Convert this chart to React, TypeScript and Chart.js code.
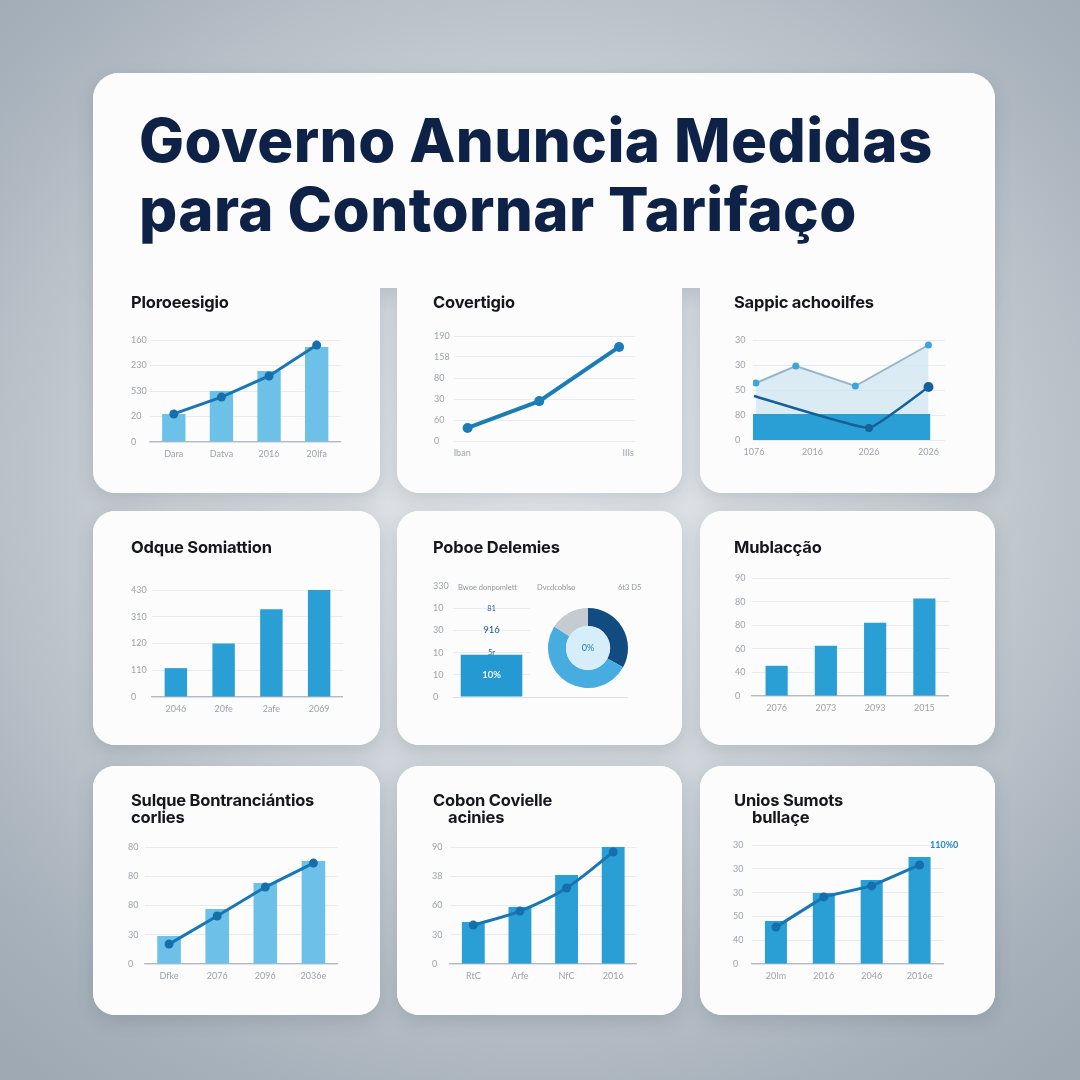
import React, { useEffect, useRef } from "react";
import { Chart, registerables } from "chart.js";
Chart.register(...registerables);

// ---------------- DATA ----------------
const mainTitle = ["Governo Anuncia Medidas", "para Contornar Tarifaço"];

// Panel 1
const p1Title = ["Ploroeesigio"];
const p1Labels = ["Dara", "Datva", "2016", "20Ifa"];
const p1Ticks = ["0", "20", "530", "230", "160"];
const p1Bars = [1.1, 2.0, 2.78, 3.73];
const p1Line = [1.1, 1.76, 2.59, 3.8];

// Panel 2
const p2Title = ["Covertigio"];
const p2Ticks = ["0", "60", "30", "80", "158", "190"];
const p2XLabels = ["Iban", "IIIs"];
const p2XLabelAt = [0.45, 9.6];
const p2X = [0.75, 4.7, 9.1];
const p2Y = [0.62, 1.9, 4.48];

// Panel 3
const p3Title = ["Sappic achooilfes"];
const p3Ticks = ["0", "80", "50", "30", "30"];
const p3XLabels = ["1076", "2016", "2026", "2026"];
const p3XLabelAt = [0.05, 3.1, 6.04, 9.14];
const p3AreaX = [0.15, 2.23, 5.33, 9.14];
const p3AreaY = [2.28, 2.96, 2.16, 3.8];
const p3DarkX = [0.05, 6.04, 9.14];
const p3DarkY = [1.76, 0.48, 2.12];
const p3BandX = [0, 9.24];
const p3BandY = [1.04, 1.04];

// Panel 4
const p4Title = ["Odque Somiattion"];
const p4Labels = ["2046", "20fe", "2afe", "2069"];
const p4Ticks = ["0", "110", "120", "310", "430"];
const p4Bars = [1.08, 2.0, 3.28, 4.06];

// Panel 5
const p5Title = ["Poboe Delemies"];
const p5Heads = ["Bwoe donpomlett", "Dvcdcoblso", "6t3 D5"];
const p5Ticks = ["0", "10", "10", "30", "10", "330"];
const p5Bar = [1.9];
const p5Notes = ["10%", "5r", "916", "81"];
const p5NoteAt = [1, 2, 3, 4];
const p5Slices = [33, 51, 16];
const p5Center = "0%";

// Panel 6
const p6Title = ["Mublacção"];
const p6Labels = ["2076", "2073", "2093", "2015"];
const p6Ticks = ["0", "40", "60", "80", "80", "90"];
const p6Bars = [1.28, 2.13, 3.1, 4.13];

// Panel 7
const p7Title = ["Sulque Bontranciántios", "corlies"];
const p7Labels = ["Dfke", "2076", "2096", "2036e"];
const p7Ticks = ["0", "30", "80", "80", "80"];
const p7Bars = [0.96, 1.88, 2.77, 3.52];
const p7Line = [0.68, 1.64, 2.63, 3.45];

// Panel 8
const p8Title = ["Cobon Covielle", "acinies"];
const p8Labels = ["RtC", "Arfe", "NfC", "2016"];
const p8Ticks = ["0", "30", "60", "38", "90"];
const p8Bars = [1.44, 1.95, 3.04, 4.03];
const p8Line = [1.33, 1.81, 2.6, 3.83];

// Panel 9
const p9Title = ["Unios Sumots", "bullaçe"];
const p9Labels = ["20Im", "2016", "2046", "2016e"];
const p9Ticks = ["0", "40", "50", "30", "30", "30"];
const p9Bars = [1.81, 2.98, 3.53, 4.5];
const p9Line = [1.55, 2.82, 3.28, 4.16];
const p9Note = "110%0";

// ---------------- STYLE ----------------
const TICK_FONT = { family: "Lato", size: 9 };
const TICK_COLOR = "#9ca3aa";
const GRID = "#e8ecef";
const AXIS = "#b3bac1";
const LIGHT_BAR = "#6dc0e8";
const BAR = "#2a9fd6";
const LINE = "#1677b4";

type Geo = { box: { left: number; top: number; width: number; height: number }; yw: number; xh: number; padTop: number; padRight: number };

function geo(labelLeft: number, plotLeft: number, plotRight: number, gridTop: number, gridBottom: number, xh = 24, padTop = 8, padRight = 0): Geo {
  return {
    box: { left: labelLeft, top: gridTop - padTop, width: plotRight - labelLeft + padRight, height: gridBottom - gridTop + padTop + xh },
    yw: plotLeft - labelLeft,
    xh,
    padTop,
    padRight,
  };
}

function baseOpts(g: Geo) {
  return {
    responsive: false,
    maintainAspectRatio: false,
    animation: false as const,
    events: [] as any[],
    layout: { padding: { top: g.padTop, left: 0, right: g.padRight, bottom: 0 } },
    plugins: { legend: { display: false }, tooltip: { enabled: false }, title: { display: false } },
  };
}

function yScale(ticks: string[], g: Geo, extra: any = {}) {
  return {
    type: "linear",
    min: 0,
    max: ticks.length - 1,
    afterFit: (s: any) => { s.width = g.yw; },
    afterBuildTicks: (s: any) => { s.ticks = ticks.map((_, i) => ({ value: i })); },
    ticks: {
      callback: (_v: any, i: number) => ticks[i],
      crossAlign: "far",
      color: TICK_COLOR,
      font: TICK_FONT,
      padding: 0,
      autoSkip: false,
    },
    grid: { color: GRID, drawTicks: false, lineWidth: 1 },
    border: { display: false },
    ...extra,
  };
}

function xCat(g: Geo, border = true) {
  return {
    type: "category",
    offset: true,
    afterFit: (s: any) => { s.height = g.xh; },
    grid: { display: false, drawTicks: false },
    border: { display: border, color: AXIS, width: 1.2 },
    ticks: { color: TICK_COLOR, font: TICK_FONT, padding: 7, maxRotation: 0, autoSkip: false },
  };
}

function xLin(g: Geo, labels: string[], at: number[]) {
  return {
    type: "linear",
    min: 0,
    max: 10,
    afterFit: (s: any) => { s.height = g.xh; },
    afterBuildTicks: (s: any) => { s.ticks = at.map((v) => ({ value: v })); },
    grid: { display: false, drawTicks: false },
    border: { display: false },
    ticks: { callback: (_v: any, i: number) => labels[i], color: TICK_COLOR, font: TICK_FONT, padding: 7, maxRotation: 0, autoSkip: false },
  };
}

function barConfig(labels: string[], ticks: string[], bars: number[], line: number[] | null, g: Geo, barColor: string, barPct: number, tension = 0) {
  const datasets: any[] = [];
  if (line) {
    datasets.push({
      type: "line",
      data: line,
      borderColor: LINE,
      backgroundColor: LINE,
      borderWidth: 3,
      pointRadius: 4.5,
      pointBackgroundColor: "#156fab",
      pointBorderWidth: 0,
      tension,
      fill: false,
    });
  }
  datasets.push({
    type: "bar",
    data: bars,
    backgroundColor: barColor,
    borderWidth: 0,
    barPercentage: barPct,
    categoryPercentage: 1,
  });
  return {
    type: "bar",
    data: { labels, datasets },
    options: { ...baseOpts(g), scales: { x: xCat(g), y: yScale(ticks, g) } },
  };
}

// ---------------- COMPONENTS ----------------
function ChartBox({ g, make }: { g: { left: number; top: number; width: number; height: number }; make: () => any }) {
  const ref = useRef<HTMLCanvasElement>(null);
  useEffect(() => {
    const c = new Chart(ref.current as HTMLCanvasElement, make());
    return () => c.destroy();
  }, []);
  return (
    <canvas
      ref={ref}
      width={g.width}
      height={g.height}
      style={{ position: "absolute", left: g.left, top: g.top, width: g.width, height: g.height }}
    />
  );
}

function PanelTitle({ lines, left, top, indent = 0 }: { lines: string[]; left: number; top: number; indent?: number }) {
  return (
    <div style={{ position: "absolute", left, top, fontFamily: "Inter", fontWeight: 700, fontSize: 16.5, lineHeight: "17px", color: "#14171c", whiteSpace: "nowrap", letterSpacing: -0.2 }}>
      {lines.map((l, i) => (
        <div key={i} style={{ paddingLeft: i > 0 ? indent : 0 }}>{l}</div>
      ))}
    </div>
  );
}

type R = { l: number; t: number; w: number; h: number; r: string };
const cards: R[] = [
  { l: 93, t: 73, w: 902, h: 215, r: "26px 26px 0 0" },
  { l: 93, t: 288, w: 287, h: 205, r: "0 0 22px 22px" },
  { l: 397, t: 288, w: 285, h: 205, r: "0 0 22px 22px" },
  { l: 700, t: 288, w: 295, h: 205, r: "0 0 22px 22px" },
  { l: 93, t: 511, w: 287, h: 234, r: "22px" },
  { l: 397, t: 511, w: 285, h: 234, r: "22px" },
  { l: 700, t: 511, w: 295, h: 234, r: "22px" },
  { l: 93, t: 766, w: 287, h: 249, r: "22px" },
  { l: 397, t: 766, w: 285, h: 249, r: "22px" },
  { l: 700, t: 766, w: 295, h: 249, r: "22px" },
];

export default function App() {
  const g1 = geo(131, 150, 345, 340, 442);
  const g2 = geo(434, 454, 641, 336, 441);
  const g3 = geo(735, 753, 950, 340, 440);
  const g4 = geo(131, 152, 343, 590, 697);
  const g5 = geo(433, 453, 530, 586, 697, 12, 8, 98);
  const g6 = geo(735, 752, 949, 578, 696);
  const g7 = geo(128, 145, 342, 847, 964);
  const g8 = geo(432, 450, 641, 847, 964);
  const g9 = geo(733, 752, 948, 845, 964);

  const make2 = () => ({
    type: "line",
    data: {
      datasets: [
        {
          data: p2X.map((x, i) => ({ x, y: p2Y[i] })),
          borderColor: "#1a7db8",
          backgroundColor: "#1a7db8",
          borderWidth: 4,
          pointRadius: 5,
          pointBorderWidth: 0,
          tension: 0,
        },
      ],
    },
    options: { ...baseOpts(g2), scales: { x: xLin(g2, p2XLabels, p2XLabelAt), y: yScale(p2Ticks, g2) } },
  });

  const make3 = () => ({
    type: "line",
    data: {
      datasets: [
        {
          data: p3DarkX.map((x, i) => ({ x, y: p3DarkY[i] })),
          borderColor: "#16609a",
          backgroundColor: "#16609a",
          borderWidth: 2.5,
          pointRadius: [0, 4, 5],
          pointBorderWidth: 0,
          fill: false,
          tension: 0.1,
        },
        {
          data: p3BandX.map((x, i) => ({ x, y: p3BandY[i] })),
          borderWidth: 0,
          pointRadius: 0,
          backgroundColor: "#2a9fd6",
          fill: "origin",
        },
        {
          data: p3AreaX.map((x, i) => ({ x, y: p3AreaY[i] })),
          borderColor: "#95b6ca",
          backgroundColor: "rgba(200,226,240,0.65)",
          borderWidth: 2,
          pointRadius: 3.5,
          pointBackgroundColor: "#3aa6df",
          pointBorderWidth: 0,
          fill: "origin",
          tension: 0,
        },
      ],
    },
    options: { ...baseOpts(g3), scales: { x: xLin(g3, p3XLabels, p3XLabelAt), y: yScale(p3Ticks, g3) } },
  });

  const make5 = () => ({
    type: "bar",
    data: {
      labels: [""],
      datasets: [{ data: p5Bar, backgroundColor: "#2499d2", borderWidth: 0, barPercentage: 0.8, categoryPercentage: 1 }],
    },
    options: {
      ...baseOpts(g5),
      scales: {
        x: { ...xCat(g5, false), ticks: { display: false } },
        y: yScale(p5Ticks, g5, {
          grid: {
            color: (c: any) => (c.tick && c.tick.value === 5 ? "rgba(0,0,0,0)" : GRID),
            drawTicks: false,
          },
        }),
      },
    },
    plugins: [
      {
        id: "p5notes",
        afterDatasetsDraw(chart: any) {
          const ctx = chart.ctx;
          const y = chart.scales.y;
          const bar = chart.getDatasetMeta(0).data[0];
          ctx.save();
          // baseline extension under the donut
          ctx.strokeStyle = "#dde2e6";
          ctx.lineWidth = 1;
          ctx.beginPath();
          ctx.moveTo(chart.chartArea.left, y.getPixelForValue(0) + 0.5);
          ctx.lineTo(chart.width, y.getPixelForValue(0) + 0.5);
          ctx.stroke();
          ctx.textAlign = "center";
          ctx.textBaseline = "middle";
          p5Notes.forEach((t, i) => {
            const v = p5NoteAt[i];
            const inside = v < p5Bar[0];
            ctx.fillStyle = inside ? "#ffffff" : "#1f5594";
            ctx.font = (inside ? "600 " : "") + (t.length > 2 ? "9.5px" : "7.5px") + " Lato";
            ctx.fillText(t, bar.x, y.getPixelForValue(v));
          });
          ctx.restore();
        },
      },
    ],
  });

  const make5d = () => ({
    type: "doughnut",
    data: {
      labels: ["a", "b", "c"],
      datasets: [{ data: p5Slices, backgroundColor: ["#124b7f", "#47ade1", "#c4cbd1"], borderWidth: 0 }],
    },
    options: {
      responsive: false,
      animation: false as const,
      events: [] as any[],
      cutout: "55%",
      layout: { padding: 0 },
      plugins: { legend: { display: false }, tooltip: { enabled: false } },
    },
    plugins: [
      {
        id: "center",
        afterDatasetsDraw(chart: any) {
          const arc = chart.getDatasetMeta(0).data[0];
          const ctx = chart.ctx;
          ctx.save();
          ctx.fillStyle = "#d6eef9";
          ctx.beginPath();
          ctx.arc(arc.x, arc.y, arc.innerRadius, 0, Math.PI * 2);
          ctx.fill();
          ctx.fillStyle = "#2a78b8";
          ctx.font = "9px Lato";
          ctx.textAlign = "center";
          ctx.textBaseline = "middle";
          ctx.fillText(p5Center, arc.x, arc.y);
          ctx.restore();
        },
      },
    ],
  });

  return (
    <div
      style={{
        position: "fixed",
        left: 0,
        top: 0,
        width: 1080,
        height: 1080,
        overflow: "hidden",
        background: "radial-gradient(ellipse 75% 70% at 50% 45%, #e6e9ec 0%, #cdd3d8 45%, #a7b1bb 85%, #9ea9b4 100%)",
      }}
    >
      {cards.map((c, i) => (
        <div key={"s" + i} style={{ position: "absolute", left: c.l, top: c.t, width: c.w, height: c.h, borderRadius: c.r, background: "#fff", boxShadow: "0 6px 18px rgba(60,75,90,0.18)" }} />
      ))}
      {cards.map((c, i) => (
        <div key={"c" + i} style={{ position: "absolute", left: c.l, top: c.t, width: c.w, height: c.h, borderRadius: c.r, background: "#fcfcfd" }} />
      ))}

      <div style={{ position: "absolute", left: 139, top: 106, fontFamily: "Inter", fontWeight: 800, fontSize: 60, lineHeight: "69px", color: "#0d2246", whiteSpace: "nowrap", letterSpacing: 0.4 }}>
        {mainTitle.map((l, i) => (
          <div key={i}>{l}</div>
        ))}
      </div>

      <PanelTitle lines={p1Title} left={131} top={294} />
      <PanelTitle lines={p2Title} left={433} top={294} />
      <PanelTitle lines={p3Title} left={734} top={294} />
      <PanelTitle lines={p4Title} left={131} top={539} />
      <PanelTitle lines={p5Title} left={433} top={539} />
      <PanelTitle lines={p6Title} left={734} top={539} />
      <PanelTitle lines={p7Title} left={131} top={792} />
      <PanelTitle lines={p8Title} left={433} top={792} indent={15} />
      <PanelTitle lines={p9Title} left={734} top={792} indent={18} />

      <ChartBox g={g1.box} make={() => barConfig(p1Labels, p1Ticks, p1Bars, p1Line, g1, LIGHT_BAR, 0.49)} />
      <ChartBox g={g2.box} make={make2} />
      <ChartBox g={g3.box} make={make3} />
      <ChartBox g={g4.box} make={() => barConfig(p4Labels, p4Ticks, p4Bars, null, g4, BAR, 0.47)} />
      <ChartBox g={g5.box} make={make5} />
      <ChartBox g={{ left: 548, top: 608, width: 80, height: 80 }} make={make5d} />
      <ChartBox g={g6.box} make={() => barConfig(p6Labels, p6Ticks, p6Bars, null, g6, BAR, 0.45)} />
      <ChartBox g={g7.box} make={() => barConfig(p7Labels, p7Ticks, p7Bars, p7Line, g7, LIGHT_BAR, 0.49)} />
      <ChartBox g={g8.box} make={() => barConfig(p8Labels, p8Ticks, p8Bars, p8Line, g8, BAR, 0.49, 0.3)} />
      <ChartBox g={g9.box} make={() => barConfig(p9Labels, p9Ticks, p9Bars, p9Line, g9, BAR, 0.46)} />

      <div style={{ position: "absolute", left: 433, top: 583, width: 210, fontFamily: "Lato", fontSize: 7.5, color: "#8f969d", whiteSpace: "nowrap" }}>
        <span style={{ position: "absolute", left: 25 }}>{p5Heads[0]}</span>
        <span style={{ position: "absolute", left: 104 }}>{p5Heads[1]}</span>
        <span style={{ position: "absolute", left: 185 }}>{p5Heads[2]}</span>
      </div>

      <div style={{ position: "absolute", left: 930, top: 839, fontFamily: "Lato", fontWeight: 700, fontSize: 9, color: "#2188cc", whiteSpace: "nowrap" }}>{p9Note}</div>
    </div>
  );
}
